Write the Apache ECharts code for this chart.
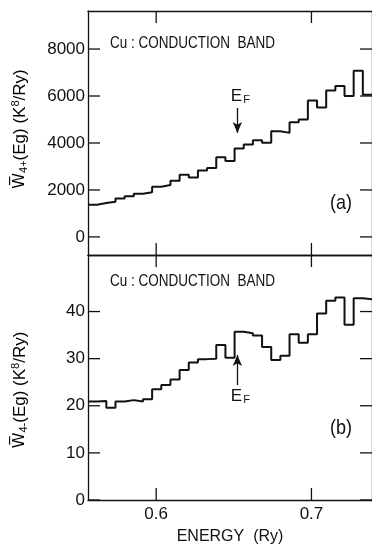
<!DOCTYPE html>
<html>
<head>
<meta charset="utf-8">
<script src="https://cdn.jsdelivr.net/npm/echarts@6/dist/echarts.min.js"></script>
<style>
    html, body { margin: 0; padding: 0; background: #fff; }
    #chart { width: 372px; height: 546px; }
</style>
</head>
<body>
<div id="chart"></div>
<script>
    // bin start energies (Ry), last edge closes the histogram
    const binStart = [0.5561, 0.5620, 0.5679, 0.5738, 0.5797, 0.5856, 0.5915, 0.5974, 0.6033, 0.6092,
        0.6151, 0.6210, 0.6269, 0.6328, 0.6387, 0.6446, 0.6505, 0.6564, 0.6623, 0.6682,
        0.6741, 0.6800, 0.6859, 0.6918, 0.6977, 0.7036, 0.7095, 0.7154, 0.7213, 0.7272, 0.7331]
    const binEnd = 0.7390

    // (a) W4+ (K^8/Ry)
    const wPlus = [1370, 1440, 1500, 1640, 1730, 1840, 1900, 2140, 2210, 2390,
        2650, 2530, 2830, 2930, 3390, 3230, 3770, 3940, 4120, 4010,
        4500, 4430, 4880, 5000, 5810, 5510, 6240, 6430, 6000, 7080, 6050]
    // (b) W4- (K^8/Ry)
    const wMinus = [20.9, 21.0, 19.6, 20.9, 21.2, 20.9, 21.4, 23.5, 24.4, 25.6,
        27.6, 29.2, 29.9, 30.0, 32.9, 30.2, 35.7, 35.4, 34.9, 32.5,
        29.7, 30.6, 35.2, 33.4, 35.2, 39.6, 42.3, 43.0, 37.2, 42.8, 42.6]

    const xTicks = [0.6, 0.7]
    const yTicksA = [0, 2000, 4000, 6000, 8000]
    const yTicksB = [0, 10, 20, 30, 40]
    const yRangeA = [-770, 9620]
    const yRangeB = [0, 52]
    const fermi = 0.6523

    const ink = '#111'
    const font = 'Liberation Sans'
    const tickLen = 12

    function steps (vals) {
        const pts = binStart.map((e, i) => [e, vals[i]])
        pts.push([binEnd, vals[vals.length - 1]])
        return pts
    }

    function xAx (grid, pos, labels) {
        return {
            gridIndex: grid,
            type: 'value',
            position: pos,
            min: binStart[0],
            max: binEnd,
            axisLine: { show: true, onZero: false, lineStyle: { color: ink, width: 1.3 } },
            axisTick: { show: false },
            axisLabel: {
                show: labels,
                customValues: xTicks,
                formatter: v => v.toFixed(1),
                color: ink, fontFamily: font, fontSize: 17, margin: 6
            },
            splitLine: { show: false }
        }
    }

    function yAx (grid, pos, range, ticks, labels) {
        return {
            gridIndex: grid,
            type: 'value',
            position: pos,
            min: range[0],
            max: range[1],
            axisLine: { show: true, onZero: false, lineStyle: { color: ink, width: 1.3 } },
            axisTick: { show: false },
            axisLabel: {
                show: labels,
                customValues: ticks,
                formatter: v => String(v),
                color: ink, fontFamily: font, fontSize: 17, margin: 3
            },
            splitLine: { show: false }
        }
    }

    // inward tick marks on all four sides, placed through the axes
    function tickLine (x1, y1, x2, y2) {
        return { type: 'line', shape: { x1: x1, y1: y1, x2: x2, y2: y2 }, style: { stroke: ink, lineWidth: 1.3 } }
    }

    function yTickSeries (xi, yi, ticks) {
        return {
            type: 'custom',
            xAxisIndex: xi,
            yAxisIndex: yi,
            silent: true,
            clip: false,
            data: ticks.map(v => [binStart[0], v]),
            renderItem: (params, api) => {
                const v = api.value(1)
                const l = api.coord([binStart[0], v])
                const r = api.coord([binEnd, v])
                return {
                    type: 'group',
                    children: [
                        tickLine(l[0], l[1], l[0] + tickLen, l[1]),
                        tickLine(r[0], r[1], r[0] - tickLen, r[1])
                    ]
                }
            }
        }
    }

    function xTickSeries (xi, yi, range) {
        return {
            type: 'custom',
            xAxisIndex: xi,
            yAxisIndex: yi,
            silent: true,
            clip: false,
            data: xTicks.map(v => [v, range[0]]),
            renderItem: (params, api) => {
                const v = api.value(0)
                const b = api.coord([v, range[0]])
                const t = api.coord([v, range[1]])
                return {
                    type: 'group',
                    children: [
                        tickLine(b[0], b[1], b[0], b[1] - tickLen),
                        tickLine(t[0], t[1], t[0], t[1] + tickLen)
                    ]
                }
            }
        }
    }

    const efRich = {
        e: { fontFamily: font, fontSize: 17, color: ink, verticalAlign: 'top' },
        f: { fontFamily: font, fontSize: 11, color: ink, verticalAlign: 'bottom', padding: [6, 0, 0, 1] }
    }

    function fermiArrow (from, to) {
        return {
            silent: true,
            animation: false,
            symbol: ['none', 'arrow'],
            symbolSize: [7, 11],
            lineStyle: { color: ink, width: 1.3, type: 'solid' },
            label: { show: true, position: 'start', formatter: '{e|E}{f|F}', rich: efRich, distance: 3, offset: [3, 0] },
            data: [[{ coord: [fermi, from] }, { coord: [fermi, to] }]]
        }
    }

    const nameRich = {
        w: { fontFamily: 'DejaVu Sans', fontSize: 16, color: ink },
        s: { fontFamily: font, fontSize: 11, color: ink, verticalAlign: 'bottom', padding: [8, 0, 0, 0] },
        t: { fontFamily: font, fontSize: 17, color: ink },
        p: { fontFamily: font, fontSize: 11, color: ink, verticalAlign: 'top', padding: [0, 0, 8, 0] }
    }

    function yName (x, y, sub) {
        return {
            type: 'text',
            x: x, y: y,
            rotation: Math.PI / 2,
            style: {
                text: '{w|W\u0305}{s|' + sub + '}{t|(Eg) (K}{p|8}{t|/Ry)}',
                rich: nameRich,
                align: 'center',
                verticalAlign: 'middle'
            }
        }
    }

    function plain (x, y, text, size, align, sx, sy) {
        return {
            type: 'text', x: x, y: y, scaleX: sx || 1, scaleY: sy || 1,
            style: { text: text, fontFamily: font, fontSize: size, fill: ink, align: align, verticalAlign: 'middle' }
        }
    }

    const chart = echarts.init(document.getElementById('chart'), null, { renderer: 'canvas' })

    chart.setOption({
        backgroundColor: '#fff',
        animation: false,
        grid: [
            { left: 88, top: 11, width: 292.6, height: 244 },
            { left: 88, top: 255, width: 292.6, height: 245 }
        ],
        xAxis: [
            xAx(0, 'bottom', false),
            xAx(0, 'top', false),
            Object.assign(xAx(1, 'bottom', true), {
                name: 'ENERGY  (Ry)',
                nameLocation: 'middle',
                nameGap: 29,
                nameTextStyle: { color: ink, fontFamily: font, fontSize: 16 }
            }),
            xAx(1, 'top', false)
        ],
        yAxis: [
            yAx(0, 'left', yRangeA, yTicksA, true),
            yAx(0, 'right', yRangeA, yTicksA, false),
            yAx(1, 'left', yRangeB, yTicksB, true),
            yAx(1, 'right', yRangeB, yTicksB, false)
        ],
        series: [
            {
                name: 'W4+',
                type: 'line',
                xAxisIndex: 0,
                yAxisIndex: 0,
                step: 'end',
                showSymbol: false,
                data: steps(wPlus),
                lineStyle: { color: ink, width: 2 },
                markLine: fermiArrow(5490, 4430)
            },
            {
                name: 'W4-',
                type: 'line',
                xAxisIndex: 2,
                yAxisIndex: 2,
                step: 'end',
                showSymbol: false,
                data: steps(wMinus),
                lineStyle: { color: ink, width: 2 },
                markLine: fermiArrow(24.4, 30.8)
            },
            yTickSeries(0, 0, yTicksA),
            xTickSeries(0, 0, yRangeA),
            yTickSeries(2, 2, yTicksB),
            xTickSeries(2, 2, yRangeB)
        ],
        graphic: [
            plain(110, 43, 'Cu : CONDUCTION  BAND', 15, 'left', 0.9, 1.15),
            plain(110, 281, 'Cu : CONDUCTION  BAND', 15, 'left', 0.9, 1.15),
            plain(341, 204, '(a)', 18, 'center', 1, 1.1),
            plain(341, 429, '(b)', 18, 'center', 1, 1.1),
            yName(20, 129, '4+'),
            yName(20, 390, '4-')
        ]
    })
</script>
</body>
</html>
